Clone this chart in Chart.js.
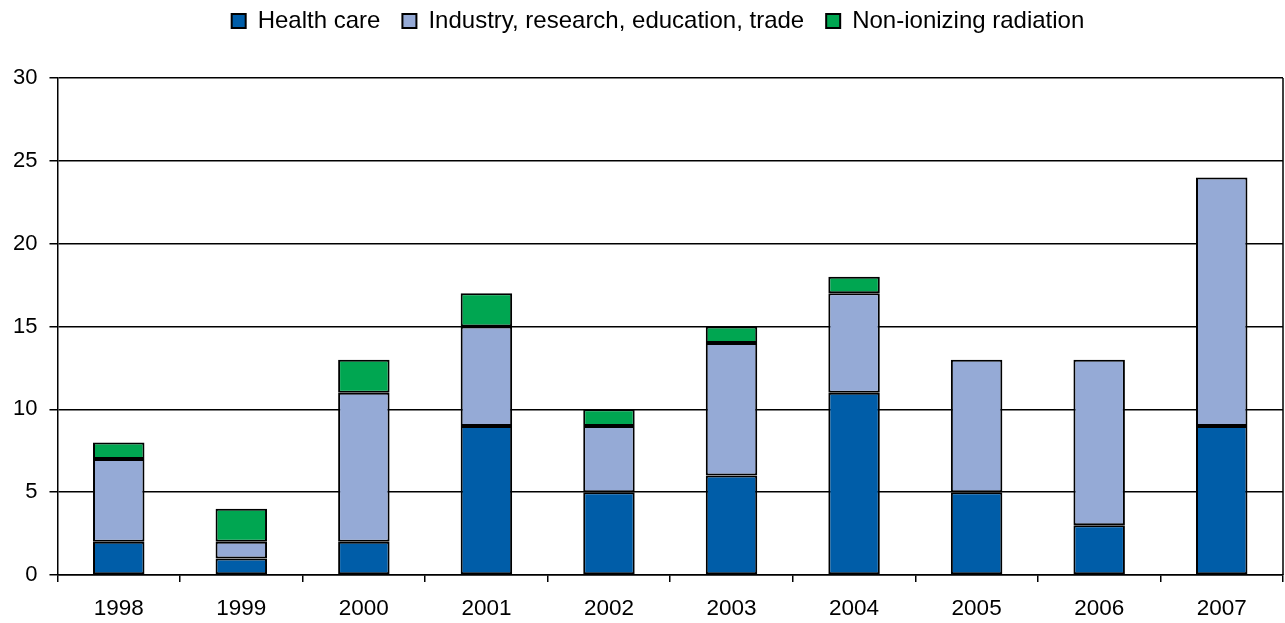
<!DOCTYPE html>
<html>
<head>
<meta charset="utf-8">
<script src="https://cdn.jsdelivr.net/npm/chart.js@4.4.0/dist/chart.umd.min.js"></script>
<style>
  html, body { margin: 0; padding: 0; background: #fff; }
  #wrap { width: 1285px; height: 623px; }
</style>
</head>
<body>
<div id="wrap"><canvas id="myChart"></canvas></div>
<script>
var years = ["1998", "1999", "2000", "2001", "2002", "2003", "2004", "2005", "2006", "2007"];
var healthCare = [2, 1, 2, 9, 5, 6, 11, 5, 3, 9];
var industry = [5, 1, 9, 6, 4, 8, 6, 8, 10, 15];
var nonIonizing = [1, 2, 2, 2, 1, 1, 1, 0, 0, 0];

var FONT = 'Liberation Sans, Arial, sans-serif';

// closes the plot frame on the right and nudges the legend into place
var frameRight = {
    id: 'frameRight',
    afterLayout: function (chart) {
        chart.legend.top -= 35;
        chart.legend.left += 16;
        chart.legend.right += 16;
    },
    afterDraw: function (chart) {
        var a = chart.chartArea;
        var c = chart.ctx;
        c.save();
        c.strokeStyle = '#000';
        c.lineWidth = 1.5;
        c.beginPath();
        c.moveTo(a.right, a.top);
        c.lineTo(a.right, a.bottom);
        c.stroke();
        c.restore();
    }
};

var ctx = document.getElementById('myChart').getContext('2d');

var myChart = new Chart(ctx, {
    type: 'bar',
    data: {
        labels: years,
        datasets: [{
            label: 'Health care',
            data: healthCare,
            backgroundColor: '#005DA8'
        },
        {
            label: 'Industry, research, education, trade',
            data: industry,
            backgroundColor: '#95AAD6'
        },
        {
            label: 'Non-ionizing radiation',
            data: nonIonizing,
            backgroundColor: '#00A651'
        }]
    },
    options: {
        responsive: true,
        maintainAspectRatio: false,
        animation: false,
        datasets: {
            bar: {
                barPercentage: 0.42,
                categoryPercentage: 1,
                borderColor: '#000',
                borderWidth: 2,
                borderSkipped: false,
                inflateAmount: 0
            }
        },
        layout: { padding: { top: 22, right: 2, left: 1, bottom: -12 } },
        plugins: {
            legend: {
                position: 'top',
                labels: {
                    color: '#000',
                    boxWidth: 14,
                    boxHeight: 14,
                    padding: 22,
                    font: { family: FONT, size: 24 }
                }
            },
            tooltip: { enabled: false }
        },
        scales: {
            x: {
                stacked: true,
                offset: true,
                grid: {
                    offset: true,
                    drawOnChartArea: false,
                    color: '#000',
                    lineWidth: 1.5,
                    tickLength: 7
                },
                border: { color: '#000', width: 1.5 },
                ticks: {
                    color: '#000',
                    padding: 13,
                    maxRotation: 0,
                    font: { family: FONT, size: 22.5 }
                }
            },
            y: {
                stacked: true,
                min: 0,
                max: 30,
                grid: {
                    color: '#000',
                    lineWidth: 1.5,
                    tickLength: 8
                },
                border: { color: '#000', width: 1.5 },
                ticks: {
                    stepSize: 5,
                    color: '#000',
                    padding: 12,
                    font: { family: FONT, size: 22 }
                }
            }
        }
    },
    plugins: [frameRight]
});
</script>
</body>
</html>
